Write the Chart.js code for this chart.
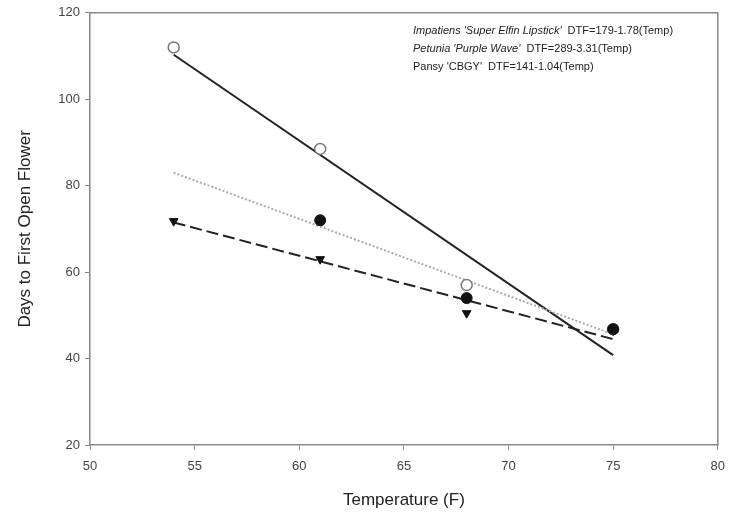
<!DOCTYPE html>
<html>
<head>
<meta charset="utf-8">
<script src="https://cdn.jsdelivr.net/npm/chart.js@4"></script>
<style>
body { margin: 0; background: #fff; }
#wrap { position: relative; width: 734px; height: 520px; }
#note { position: absolute; left: 413px; top: 21px; font-family: "Liberation Sans", Arial, sans-serif; font-size: 11px; line-height: 18px; color: #222; }
</style>
</head>
<body>
<div id="wrap">
<canvas id="chart" width="734" height="520"></canvas>
<div id="note">
<div><i>Impatiens 'Super Elfin Lipstick'</i>&nbsp; DTF=179-1.78(Temp)</div>
<div><i>Petunia 'Purple Wave'</i>&nbsp; DTF=289-3.31(Temp)</div>
<div>Pansy 'CBGY'&nbsp; DTF=141-1.04(Temp)</div>
</div>
</div>
<script>
// temperatures (F)
var temps = [54, 61, 68, 75];
var fitTemps = [54, 75];

// open circles / solid line
var petuniaDays = [112, 88.5, 57, 46.8];
var petuniaFit = [110.3, 40.8];

// filled circles / dotted line
var impatiensTemps = [61, 68, 75];
var impatiensDays = [72, 54, 46.8];
var impatiensFit = [83, 45.6];

// triangles / dashed line
var pansyDays = [71.8, 63, 50.5, 46.5];
var pansyFit = [71.5, 44.5];

function pts(xs, ys) {
    return xs.map(function(x, i){ return {x: x, y: ys[i]}; });
}

var font = {family: "'Liberation Sans', Arial, sans-serif", size: 13};

// lower "order" is painted on top
var ctx = document.getElementById('chart').getContext('2d');
var myChart = new Chart(ctx, {
    type: 'scatter',
    data: {
        datasets: [{
            label: 'Petunia fit',
            data: pts(fitTemps, petuniaFit),
            showLine: true,
            borderColor: '#222',
            borderWidth: 2,
            pointRadius: 0,
            order: 5
        },
        {
            label: 'Impatiens fit',
            data: pts(fitTemps, impatiensFit),
            showLine: true,
            borderColor: '#aaa',
            borderWidth: 2,
            borderDash: [2, 2],
            pointRadius: 0,
            order: 4
        },
        {
            label: 'Pansy fit',
            data: pts(fitTemps, pansyFit),
            showLine: true,
            borderColor: '#222',
            borderWidth: 2,
            borderDash: [12, 5],
            pointRadius: 0,
            order: 3
        },
        {
            label: 'Petunia',
            data: pts(temps, petuniaDays),
            pointStyle: 'circle',
            pointRadius: 5.5,
            backgroundColor: '#fff',
            borderColor: '#777',
            borderWidth: 1.5,
            order: 2
        },
        {
            label: 'Pansy',
            data: pts(temps, pansyDays),
            pointStyle: 'triangle',
            rotation: 180,
            pointRadius: 5,
            backgroundColor: '#111',
            borderColor: '#111',
            borderWidth: 1,
            order: 1
        },
        {
            label: 'Impatiens',
            data: pts(impatiensTemps, impatiensDays),
            pointStyle: 'circle',
            pointRadius: 5.5,
            backgroundColor: '#111',
            borderColor: '#111',
            borderWidth: 1,
            order: 0
        }]
    },
    options: {
        responsive: false,
        animation: false,
        layout: { padding: {top: 10, right: 16, left: 0, bottom: 0} },
        plugins: {
            legend: { display: false },
            tooltip: { enabled: false }
        },
        scales: {
            x: {
                type: 'linear',
                min: 50, max: 80,
                afterFit: function(s){ s.height = 75; },
                ticks: { stepSize: 5, color: '#444', font: font, padding: 9 },
                grid: { drawOnChartArea: false, color: '#888', tickLength: 5 },
                border: { color: '#888', width: 1.5 },
                title: { display: true, text: 'Temperature (F)', color: '#222',
                    font: {family: font.family, size: 17}, padding: {top: 4, bottom: 9} }
            },
            xTop: {
                type: 'linear', position: 'top', min: 50, max: 80,
                afterFit: function(s){ s.height = 0; },
                ticks: { display: false },
                grid: { display: false },
                border: { color: '#888', width: 1.5 }
            },
            y: {
                min: 20, max: 120,
                afterFit: function(s){ s.width = 90; },
                ticks: { stepSize: 20, color: '#444', font: font, padding: 5 },
                grid: { drawOnChartArea: false, color: '#888', tickLength: 5 },
                border: { color: '#888', width: 1.5 },
                title: { display: true, text: 'Days to First Open Flower', color: '#222',
                    font: {family: font.family, size: 17}, padding: {top: 15, bottom: 0} }
            },
            yRight: {
                position: 'right', min: 20, max: 120,
                afterFit: function(s){ s.width = 0; },
                ticks: { display: false },
                grid: { display: false },
                border: { color: '#888', width: 1.5 }
            }
        }
    }
});
</script>
</body>
</html>
